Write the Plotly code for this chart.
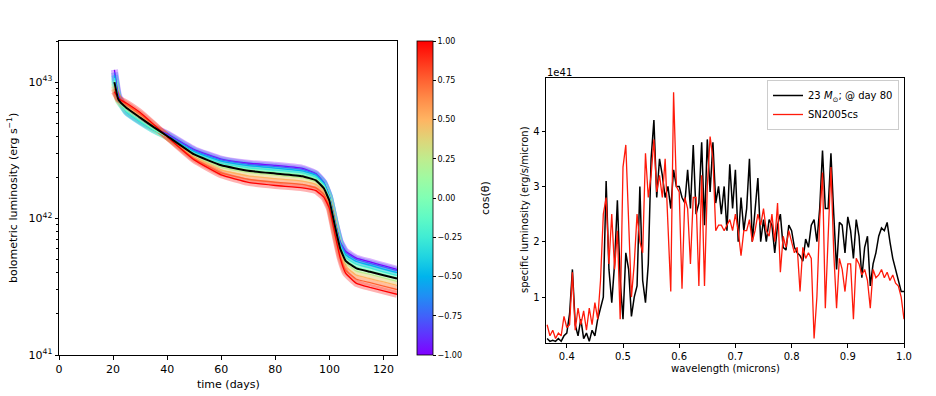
import numpy as np
import plotly.graph_objects as go

# ---------------- data: light curves (log10 L [erg/s]) ----------------
time_days = [20.5, 22, 25, 30, 35, 40, 50, 60, 70, 80, 90, 95, 98, 100, 102, 104, 106, 110, 115, 120, 125]
cos_theta = [-1.0, -0.75, -0.5, -0.25, 0.0, 0.25, 0.5, 0.75, 1.0]

loglum_m100 = [43.09, 42.90, 42.79, 42.72, 42.665, 42.62, 42.505, 42.435, 42.405, 42.39, 42.368, 42.33, 42.262, 42.16, 41.98, 41.83, 41.76, 41.71, 41.682, 41.655, 41.628]
loglum_m075 = [43.07, 42.89, 42.785, 42.715, 42.66, 42.615, 42.50, 42.43, 42.398, 42.382, 42.36, 42.326, 42.26, 42.16, 41.98, 41.825, 41.75, 41.70, 41.672, 41.645, 41.618]
loglum_m050 = [43.05, 42.88, 42.78, 42.71, 42.65, 42.605, 42.49, 42.42, 42.388, 42.37, 42.35, 42.318, 42.256, 42.16, 41.975, 41.815, 41.735, 41.685, 41.658, 41.63, 41.603]
loglum_m025 = [43.03, 42.87, 42.78, 42.71, 42.65, 42.60, 42.48, 42.405, 42.372, 42.355, 42.335, 42.306, 42.246, 42.155, 41.97, 41.80, 41.715, 41.665, 41.638, 41.61, 41.584]
loglum_p000 = [43.01, 42.865, 42.79, 42.72, 42.655, 42.60, 42.47, 42.395, 42.36, 42.34, 42.32, 42.292, 42.235, 42.145, 41.96, 41.785, 41.695, 41.643, 41.616, 41.59, 41.564]
loglum_p025 = [42.99, 42.865, 42.805, 42.735, 42.665, 42.60, 42.46, 42.375, 42.338, 42.318, 42.298, 42.27, 42.215, 42.125, 41.945, 41.77, 41.675, 41.615, 41.59, 41.565, 41.54]
loglum_p050 = [42.97, 42.87, 42.82, 42.75, 42.675, 42.60, 42.45, 42.355, 42.312, 42.292, 42.274, 42.25, 42.195, 42.11, 41.925, 41.75, 41.65, 41.585, 41.56, 41.535, 41.51]
loglum_p075 = [42.95, 42.875, 42.835, 42.765, 42.685, 42.60, 42.44, 42.335, 42.288, 42.266, 42.25, 42.225, 42.175, 42.09, 41.905, 41.73, 41.62, 41.555, 41.53, 41.505, 41.48]
loglum_p100 = [42.93, 42.88, 42.845, 42.777, 42.69, 42.60, 42.43, 42.32, 42.265, 42.242, 42.225, 42.205, 42.155, 42.075, 41.89, 41.71, 41.60, 41.525, 41.495, 41.47, 41.445]
loglum_mean = [43.00, 42.87, 42.81, 42.74, 42.67, 42.605, 42.47, 42.39, 42.35, 42.33, 42.31, 42.28, 42.22, 42.13, 41.95, 41.78, 41.69, 41.635, 41.61, 41.585, 41.56]

curves = [loglum_m100, loglum_m075, loglum_m050, loglum_m025, loglum_p000,
          loglum_p025, loglum_p050, loglum_p075, loglum_p100]

cbar_ticks = [-1.0, -0.75, -0.5, -0.25, 0.0, 0.25, 0.5, 0.75, 1.0]
cbar_ticktext = ["\u22121.00", "\u22120.75", "\u22120.50", "\u22120.25", "0.00", "0.25", "0.50", "0.75", "1.00"]

# ---------------- data: spectra (units of 1e41 erg/s/micron) ----------------
wavelength = np.round(np.arange(0.365, 1.0001, 0.005), 3)
model_day80 = [0.25, 0.2, 0.22, 0.2, 0.25, 0.2, 0.3, 0.35, 0.7, 1.5,
               0.5, 0.3, 0.6, 0.25, 0.35, 0.2, 0.4, 0.3, 0.6, 0.8,
               1.0, 3.1, 1.5, 0.9, 1.6, 2.75, 1.3, 0.6, 1.8, 1.5,
               0.65, 1.0, 1.2, 3.0, 1.3, 0.9, 1.6, 3.5, 4.2, 2.8,
               3.5, 3.2, 2.8, 3.0, 2.6, 3.3, 3.0, 3.0, 2.8, 2.7,
               3.3, 2.6, 3.75, 2.5, 2.7, 3.8, 2.3, 3.85, 2.9, 3.8,
               2.7, 3.0, 2.5, 3.0, 2.2, 3.4, 2.6, 3.3, 2.0, 2.8,
               2.2, 2.6, 3.5, 2.0, 2.6, 3.15, 2.0, 2.4, 2.0, 2.4,
               2.3, 1.8, 2.3, 2.5, 1.9, 1.85, 2.3, 2.2, 1.9, 1.8,
               1.75, 1.65, 2.05, 1.9, 2.3, 2.4, 2.0, 2.6, 3.65, 2.6,
               2.6, 3.6, 2.5, 1.5, 2.35, 2.3, 1.8, 2.45, 2.2, 1.7,
               2.4, 2.1, 1.35, 1.9, 2.1, 1.2, 1.6, 1.8, 2.1, 2.25,
               2.2, 2.35, 2.0, 1.7, 1.5, 1.3, 1.1, 1.1]
sn2005cs = [0.5, 0.3, 0.4, 0.25, 0.35, 0.3, 0.65, 0.45, 0.5, 1.45,
            0.4, 0.8, 0.5, 0.75, 0.4, 0.8, 0.5, 0.9, 0.6, 1.3,
            2.5, 2.8, 1.6, 2.5, 1.5, 2.2, 0.6, 3.35, 3.75, 2.5,
            1.0, 1.6, 2.5, 2.0, 1.8, 3.6, 2.8, 3.2, 3.85, 2.9,
            3.2, 2.8, 3.5, 2.3, 1.1, 4.7, 3.0, 2.9, 1.15, 2.8,
            2.6, 1.6, 2.8, 2.8, 1.2, 3.2, 1.2, 3.0, 3.9, 3.5,
            2.2, 2.3, 2.3, 2.2, 2.3, 2.4, 2.2, 2.5, 2.2, 1.75,
            2.2, 2.2, 2.4, 2.0, 2.2, 2.5, 2.3, 2.6, 2.2, 2.1,
            2.5, 2.0, 2.7, 1.45, 2.1, 1.9, 2.2, 2.0, 1.8, 1.9,
            1.1, 1.9, 1.7, 1.8, 1.7, 0.25, 1.0, 2.4, 3.25, 0.8,
            2.2, 3.35, 1.8, 0.8, 1.7, 1.5, 1.1, 1.6, 1.6, 0.6,
            1.7, 1.6, 1.4, 1.5, 1.3, 0.8, 1.5, 1.35, 1.4, 1.5,
            1.35, 1.45, 1.3, 1.4, 1.25, 1.2, 1.0, 0.6]

legend_names = ["23 <i>M</i><sub>\u2299</sub>; @ day 80", "SN2005cs"]


# ---------------- style helpers ----------------
def rainbow(v):
    x = (v + 1.0) / 2.0
    r = min(1.0, abs(2 * x - 0.5))
    g = np.sin(np.pi * x)
    b = np.cos(np.pi * x / 2)
    return int(round(255 * r)), int(round(255 * g)), int(round(255 * b))


colorscale = []
for i in range(17):
    v = -1 + 2 * i / 16
    r, g, b = rainbow(v)
    colorscale.append([i / 16, f"rgb({r},{g},{b})"])

FONT = "DejaVu Sans"
W, H = 936, 396


def px_x(p):
    return p / W


def px_y(p):
    return 1 - p / H


fig = go.Figure()

LINE_SHAPE = dict(shape="spline", smoothing=0.35)

# translucent bands
for c, ll in zip(cos_theta, curves):
    r, g, b = rainbow(c)
    fig.add_trace(go.Scatter(x=time_days, y=[10 ** v for v in ll], mode="lines",
                             line=dict(color=f"rgba({r},{g},{b},0.3)", width=7, **LINE_SHAPE),
                             showlegend=False, hoverinfo="skip", xaxis="x", yaxis="y"))
for c, ll in zip(cos_theta, curves):
    r, g, b = rainbow(c)
    fig.add_trace(go.Scatter(x=time_days, y=[10 ** v for v in ll], mode="lines",
                             line=dict(color=f"rgb({r},{g},{b})", width=1.3, **LINE_SHAPE),
                             showlegend=False, xaxis="x", yaxis="y"))
fig.add_trace(go.Scatter(x=time_days, y=[10 ** v for v in loglum_mean], mode="lines",
                         line=dict(color="black", width=2, **LINE_SHAPE),
                         showlegend=False, xaxis="x", yaxis="y"))

# colorbar carrier
fig.add_trace(go.Scatter(x=[-50], y=[1e42], mode="markers", xaxis="x", yaxis="y",
                         marker=dict(color=[0], colorscale=colorscale, cmin=-1, cmax=1, size=1, opacity=0,
                                     showscale=True,
                                     colorbar=dict(x=px_x(417), xanchor="left", xpad=0, ypad=0,
                                                   y=px_y(198), yanchor="middle",
                                                   thickness=16, len=314, lenmode="pixels",
                                                   tickvals=cbar_ticks, ticktext=cbar_ticktext,
                                                   ticks="outside", ticklen=3, tickcolor="black",
                                                   tickfont=dict(family=FONT, size=8, color="black"),
                                                   outlinewidth=0.8, outlinecolor="black")),
                         showlegend=False, hoverinfo="skip"))

# spectra
fig.add_trace(go.Scatter(x=wavelength, y=model_day80, mode="lines", name=legend_names[0],
                         line=dict(color="black", width=1.5), xaxis="x2", yaxis="y2"))
fig.add_trace(go.Scatter(x=wavelength, y=sn2005cs, mode="lines", name=legend_names[1],
                         line=dict(color="#ff1a0a", width=1.3), xaxis="x2", yaxis="y2"))

axis_common = dict(showline=True, linecolor="black", linewidth=1, mirror=True, ticks="outside",
                   ticklen=3.5, tickcolor="black", tickwidth=0.8, showgrid=False, zeroline=False,
                   automargin=False)

fig.update_layout(
    width=W, height=H, autosize=False,
    margin=dict(l=0, r=0, t=0, b=0, autoexpand=False),
    paper_bgcolor="white", plot_bgcolor="white",
    font=dict(family=FONT, color="black"),
    xaxis=dict(domain=[px_x(59), px_x(397)], range=[0, 125], tickvals=[0, 20, 40, 60, 80, 100, 120],
               tickfont=dict(size=11), anchor="y", **axis_common),
    yaxis=dict(domain=[px_y(355), px_y(41)], type="log", range=[41, np.log10(2e43)],
               tickvals=[1e41, 1e42, 1e43],
               ticktext=["10<sup>41</sup>", "10<sup>42</sup>", "10<sup>43</sup>"],
               tickfont=dict(size=11), anchor="x",
               minor=dict(ticks="outside", ticklen=2, tickcolor="black", dtick="D1"),
               **axis_common),
    xaxis2=dict(domain=[px_x(546), px_x(904)], range=[0.363, 1.0],
                tickvals=[0.4, 0.5, 0.6, 0.7, 0.8, 0.9, 1.0], ticktext=["0.4", "0.5", "0.6", "0.7", "0.8", "0.9", "1.0"],
                tickfont=dict(size=10), anchor="y2", **axis_common),
    yaxis2=dict(domain=[px_y(343), px_y(78)], range=[0.17, 4.96], tickvals=[1, 2, 3, 4],
                tickfont=dict(size=10), anchor="x2", **axis_common),
    legend=dict(x=px_x(899), xanchor="right", y=px_y(80), yanchor="top",
                bgcolor="white", bordercolor="#cccccc", borderwidth=1,
                font=dict(family=FONT, size=10, color="black"), tracegroupgap=0,
                itemwidth=30),
    annotations=[
        dict(text="time (days)", x=px_x(228), y=px_y(384), xref="paper", yref="paper",
             showarrow=False, font=dict(size=11), xanchor="center", yanchor="middle"),
        dict(text="bolometric luminosity (erg s<sup>\u22121</sup>)", x=px_x(12), y=px_y(198),
             xref="paper", yref="paper", showarrow=False, textangle=-90, font=dict(size=11),
             xanchor="center", yanchor="middle"),
        dict(text="cos(\u03b8)", x=px_x(485), y=px_y(198), xref="paper", yref="paper",
             showarrow=False, textangle=-90, font=dict(size=11), xanchor="center", yanchor="middle"),
        dict(text="wavelength (microns)", x=px_x(725), y=px_y(368), xref="paper", yref="paper",
             showarrow=False, font=dict(size=10), xanchor="center", yanchor="middle"),
        dict(text="specific luminosity (erg/s/micron)", x=px_x(524), y=px_y(210), xref="paper",
             yref="paper", showarrow=False, textangle=-90, font=dict(size=10),
             xanchor="center", yanchor="middle"),
        dict(text="1e41", x=px_x(545), y=px_y(72), xref="paper", yref="paper", showarrow=False,
             font=dict(size=10), xanchor="left", yanchor="middle"),
    ],
)

fig.write_html("out.html", config={"displayModeBar": False},
               post_script="document.body.style.margin='0';document.body.style.overflow='hidden';")
